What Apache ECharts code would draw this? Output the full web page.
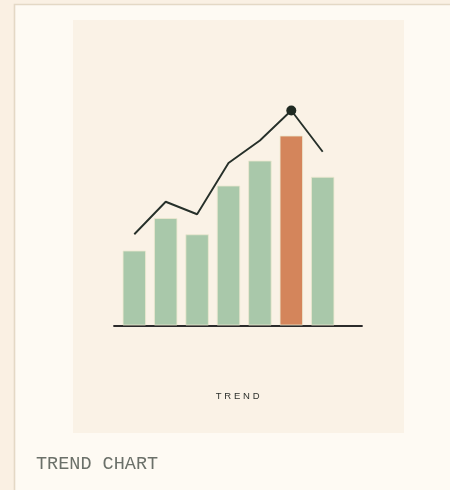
<!DOCTYPE html>
<html>
<head>
<meta charset="utf-8">
<script src="https://cdn.jsdelivr.net/npm/echarts@6/dist/echarts.min.js"></script>
<style>
  html, body { margin: 0; padding: 0; background: #faf0e3; }
  #wrap { position: relative; width: 450px; height: 490px; overflow: hidden; }
  #chart { position: absolute; left: 0; top: 0; width: 450px; height: 490px; }
  #label {
    position: absolute; left: 0; width: 478px; top: 390px;
    text-align: center; font-family: "Liberation Sans", Arial, sans-serif;
    font-size: 9.5px; letter-spacing: 2.8px; color: #2c302c; line-height: 12px;
  }
  #caption {
    position: absolute; left: 36px; top: 455px;
    font-family: "Courier New", Courier, "Liberation Mono", monospace;
    font-size: 18.5px; color: #6b7069; line-height: 20px; white-space: nowrap;
  }
</style>
</head>
<body>
<div id="wrap">
  <div id="chart"></div>
  <div id="label">TREND</div>
  <div id="caption">TREND CHART</div>
</div>
<script>
const categories = ['1', '2', '3', '4', '5', '6', '7'];
const barValues = [30, 43, 36.5, 56, 66, 76, 59.5];
const lineValues = [36.5, 49.5, 44.5, 65, 74, 86, 69.5];
const highlightIndex = 5;

const chart = echarts.init(document.getElementById('chart'), null, { renderer: 'canvas' });

const barData = barValues.map((v, i) => i === highlightIndex
  ? { value: v, itemStyle: { color: '#d4855b' } }
  : v);
const lineData = lineValues.map((v, i) => i === highlightIndex
  ? { value: v, symbol: 'circle', symbolSize: 10, itemStyle: { color: '#1f2a22' } }
  : v);

chart.setOption({
  animation: false,
  backgroundColor: 'transparent',
  graphic: [
    { type: 'rect', z: -10, shape: { x: 14.5, y: 4.5, width: 500, height: 600 },
      style: { fill: '#fefaf3', stroke: '#e4d8c5', lineWidth: 1.6 } },
    { type: 'rect', z: -9, shape: { x: 73, y: 20, width: 331, height: 413 },
      style: { fill: '#faf2e6' } }
  ],
  grid: [
    { left: 118.6, right: 111.6, top: 75.5, bottom: 164.5 },
    { left: 114, right: 88, top: 75.5, bottom: 164.5 }
  ],
  xAxis: [
    { type: 'category', gridIndex: 0, data: categories, boundaryGap: true,
      axisLine: { show: false }, axisTick: { show: false }, axisLabel: { show: false } },
    { type: 'value', gridIndex: 1, min: 0, max: 1, position: 'bottom',
      axisLine: { show: true, lineStyle: { color: '#2b2b2b', width: 1.8 } },
      axisTick: { show: false }, axisLabel: { show: false }, splitLine: { show: false } }
  ],
  yAxis: [
    { type: 'value', gridIndex: 0, min: 0, max: 100,
      axisLine: { show: false }, axisTick: { show: false }, axisLabel: { show: false }, splitLine: { show: false } },
    { type: 'value', gridIndex: 1, min: 0, max: 100, show: false }
  ],
  series: [
    {
      type: 'bar', xAxisIndex: 0, yAxisIndex: 0, data: barData, barWidth: 23.5,
      itemStyle: { color: '#a9c8aa', borderColor: 'rgba(236,232,208,0.8)', borderWidth: 1 },
      emphasis: { disabled: true }, z: 2
    },
    {
      type: 'line', xAxisIndex: 0, yAxisIndex: 0, data: lineData,
      symbol: 'none', showAllSymbol: true,
      lineStyle: { color: '#26302a', width: 1.9 },
      itemStyle: { color: '#1f2a22' },
      emphasis: { disabled: true }, z: 3
    }
  ]
});
</script>
</body>
</html>
